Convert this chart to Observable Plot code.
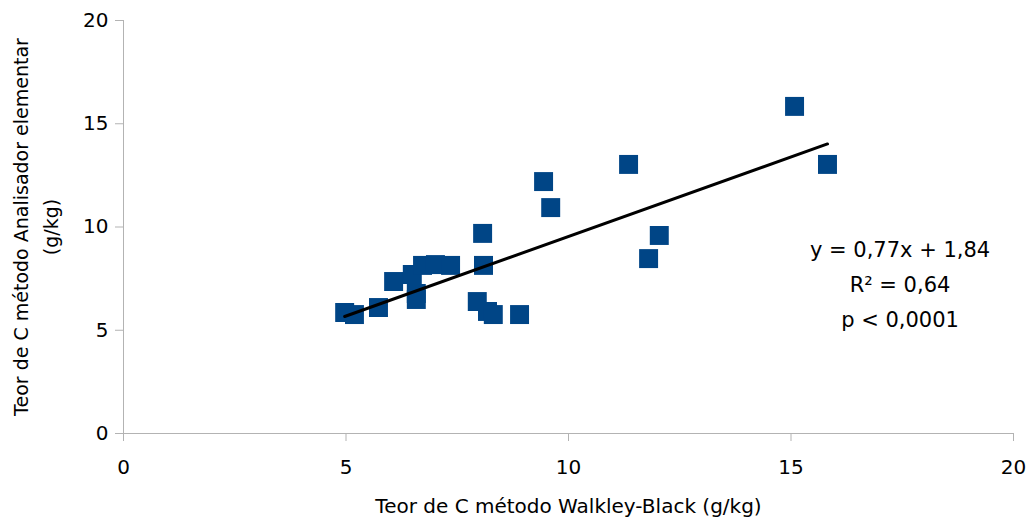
<!DOCTYPE html>
<html><head><meta charset="utf-8">
<script src="https://cdn.jsdelivr.net/npm/d3@7"></script>
<script src="https://cdn.jsdelivr.net/npm/@observablehq/plot@0.6"></script>
<style>body{margin:0;background:#fff;font-family:"DejaVu Sans",sans-serif;}</style>
</head><body><div id="chart"></div>
<script>
// Teor de C (g/kg)
const walkleyBlack = [4.97, 5.19, 5.73, 6.07, 6.49, 6.58, 6.58, 6.72, 7.01, 7.35, 8.09, 8.07, 7.95, 8.18, 8.31, 8.90, 9.44, 9.60, 11.35, 11.80, 12.04, 15.08, 15.82];
const analisador   = [5.86, 5.76, 6.10, 7.36, 7.70, 6.78, 6.49, 8.14, 8.18, 8.14, 8.14, 9.69, 6.39, 5.91, 5.76, 5.76, 12.20, 10.94, 13.03, 8.47, 9.59, 15.84, 13.03];
const xTicks = [0, 5, 10, 15, 20];
const yTicks = [0, 5, 10, 15, 20];
const slope = 0.77, intercept = 1.84;
const statLines = ["y = 0,77x + 1,84", "R\u00B2 = 0,64", "p < 0,0001"];
const statPos = {x: 17.45, y: [8.86, 7.17, 5.47]};

const points = walkleyBlack.map((x, i) => ({x, y: analisador[i]}));
const xMin = d3.min(walkleyBlack), xMax = d3.max(walkleyBlack);
const fit = [xMin, xMax].map(x => ({x, y: slope * x + intercept}));
const stats = statLines.map((t, i) => ({t, x: statPos.x, y: statPos.y[i]}));

const axisColor = "#b3b3b3";
const chart = Plot.plot({
  width: 1029,
  height: 527,
  marginLeft: 123,
  marginRight: 16,
  marginTop: 20,
  marginBottom: 94,
  style: {fontFamily: "'DejaVu Sans', sans-serif", background: "#fff", color: "#000"},
  x: {domain: [0, 20]},
  y: {domain: [0, 20]},
  marks: [
    Plot.ruleY([0], {x1: 0, x2: 20, stroke: axisColor}),
    Plot.ruleX([0], {y1: 0, y2: 20, stroke: axisColor}),
    Plot.axisX({ticks: xTicks, tickSize: 8, tickPadding: 18, stroke: axisColor, fill: "#000", fontSize: 20, label: null}),
    Plot.axisY({ticks: yTicks, tickSize: 8, tickPadding: 7, stroke: axisColor, fill: "#000", fontSize: 20, label: null}),
    Plot.dot(points, {x: "x", y: "y", symbol: "square", r: 10.7, fill: "#004586", stroke: "none"}),
    Plot.line(fit, {x: "x", y: "y", stroke: "#000", strokeWidth: 3}),
    Plot.text(stats, {x: "x", y: "y", text: "t", fontSize: 21, fill: "#000", textAnchor: "middle"}),
    Plot.text(["Teor de C método Walkley-Black (g/kg)"], {frameAnchor: "bottom", dy: 79, fontSize: 20, fill: "#000"}),
    Plot.text(["Teor de C método Analisador elementar\n(g/kg)"], {frameAnchor: "left", dx: -90, rotate: -90, textAnchor: "middle", fontSize: 19, lineHeight: 1.55, fill: "#000"})
  ]
});
document.getElementById("chart").appendChild(chart);
</script>
</body></html>
